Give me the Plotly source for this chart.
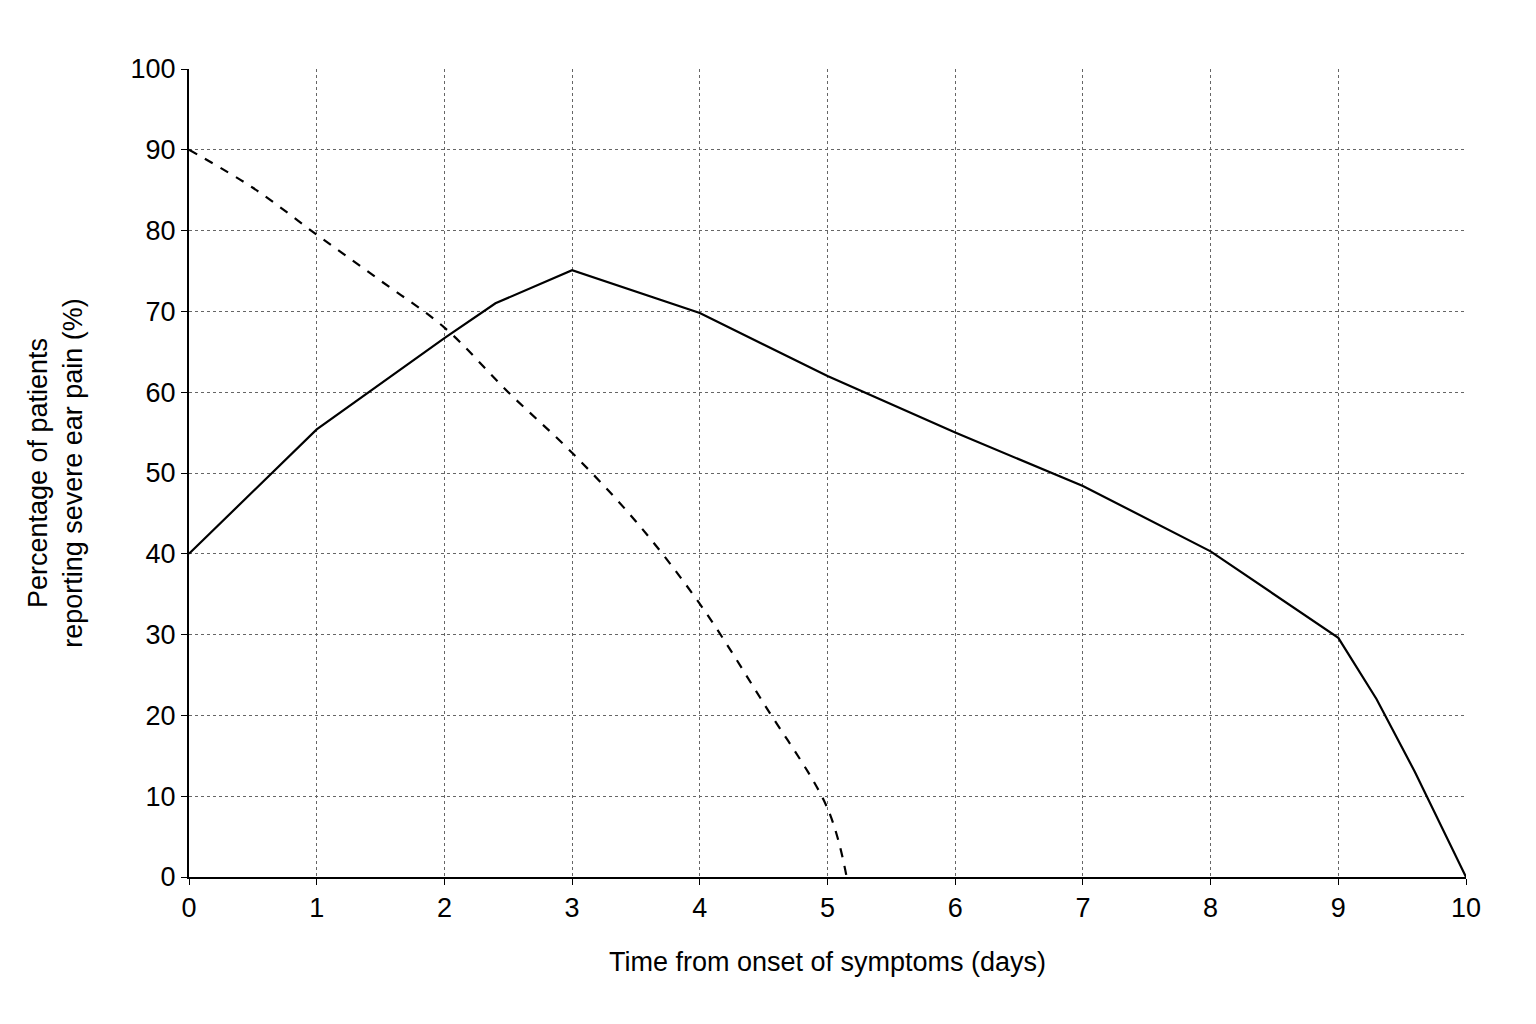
import plotly.graph_objects as go

solid_x = [0, 1, 2, 2.4, 3, 4, 5, 6, 7, 8, 9, 9.3, 9.6, 10]
solid_y = [40, 55.4, 66.7, 71, 75.1, 69.8, 62, 55, 48.4, 40.3, 29.6, 22, 13, 0]
dash_x = [0, 0.5, 1, 1.5, 2, 2.5, 3, 3.5, 4, 4.5, 5, 5.15]
dash_y = [90, 85.3, 79.5, 73.8, 68, 60, 52.5, 44, 33.8, 21.5, 8.5, 0]
x_ticks = list(range(0, 11))
y_ticks = list(range(0, 101, 10))

fig = go.Figure()
fig.add_trace(go.Scatter(x=solid_x, y=solid_y, mode="lines",
                         line=dict(color="black", width=2.2)))
fig.add_trace(go.Scatter(x=dash_x, y=dash_y, mode="lines", line_shape="spline",
                         line=dict(color="black", width=2.2, dash="dash")))

font = dict(family="Liberation Sans, Arial, sans-serif", size=27, color="black")

# axis arrows
fig.add_annotation(x=0, y=1.052, xref="x", yref="paper", ax=0, ay=0, axref="x", ayref="y",
                   showarrow=True, arrowhead=2, arrowsize=1.3, arrowwidth=2, text=" ")
fig.add_annotation(x=1.045, y=0, xref="paper", yref="y", ax=0, ay=0, axref="x", ayref="y",
                   showarrow=True, arrowhead=2, arrowsize=1.3, arrowwidth=2, text=" ")

fig.update_xaxes(range=[0, 10], tickvals=x_ticks, showgrid=True, gridcolor="#666",
                 griddash="3px,3px", gridwidth=1, zeroline=False, showline=True,
                 linecolor="black", linewidth=2, automargin=False,
                 ticks="outside", ticklen=6, tickcolor="black", tickfont=font,
                 title=dict(text="Time from onset of symptoms (days)", font=font, standoff=30))
fig.update_yaxes(range=[0, 100], tickvals=y_ticks, showgrid=True, gridcolor="#666",
                 griddash="3px,3px", gridwidth=1, zeroline=False, showline=True,
                 linecolor="black", linewidth=2, automargin=False,
                 ticks="outside", ticklen=6, tickcolor="black", tickfont=font,
                 title=dict(text="Percentage of patients<br>reporting severe ear pain (%)",
                            font=font, standoff=40))
fig.update_layout(width=1536, height=1024, showlegend=False,
                  plot_bgcolor="white", paper_bgcolor="white",
                  margin=dict(l=181, r=78, t=61, b=155))
fig.write_html("out.html")
